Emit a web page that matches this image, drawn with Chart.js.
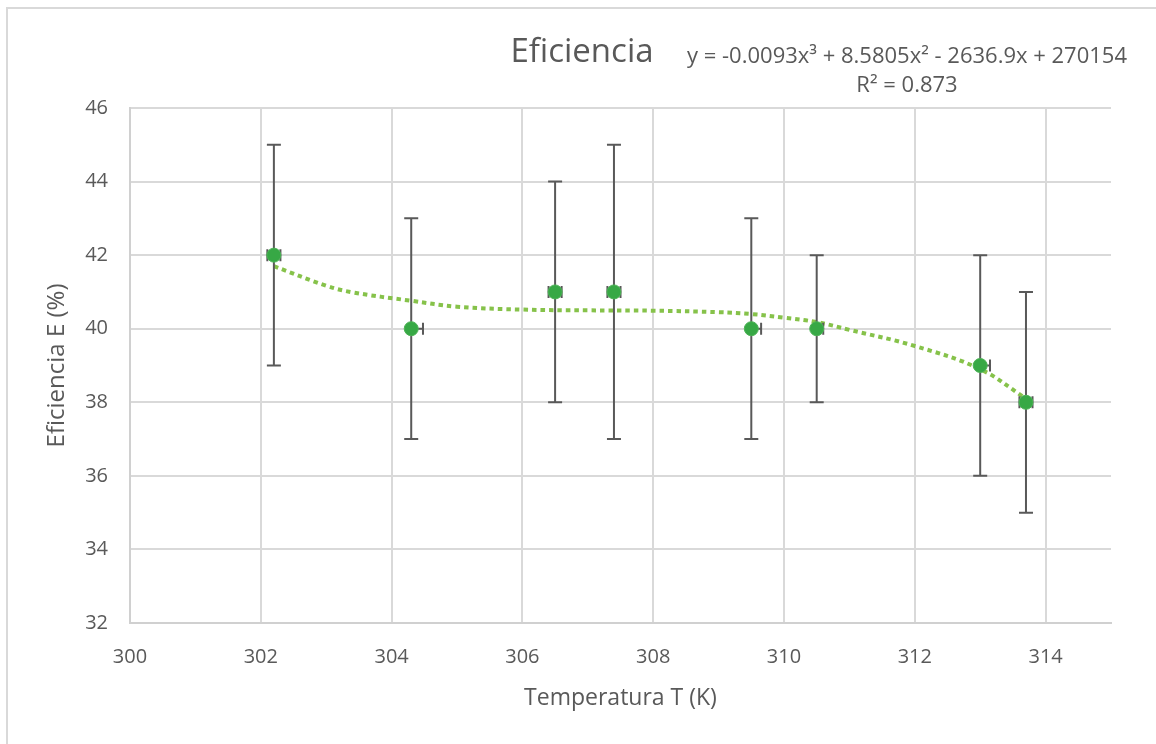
<!DOCTYPE html>
<html>
<head>
<meta charset="utf-8">
<script src="https://cdn.jsdelivr.net/npm/chart.js@4/dist/chart.umd.min.js"></script>
<style>
  html, body { margin: 0; padding: 0; background: #ffffff; }
  #wrap { width: 1156px; height: 744px; }
</style>
</head>
<body>
<div id="wrap"><canvas id="c" width="1156" height="744"></canvas></div>
<script>
// ---- data ----
const temps = [302.2, 304.3, 306.5, 307.4, 309.5, 310.5, 313.0, 313.7];
const effs = [42, 40, 41, 41, 40, 40, 39, 38];
const effErr = [3, 3, 3, 4, 3, 2, 3, 3];
const tempErrPlus = [0.1, 0.18, 0.1, 0.1, 0.15, 0.1, 0.15, 0.1];
const tempErrMinus = [0.1, 0, 0.1, 0.1, 0, 0, 0, 0.1];
const trendT = [302.2, 303.0, 303.4, 304.3, 305.0, 306.0, 307.0, 308.0, 309.0, 309.5, 310.0, 310.5, 311.0, 312.0, 313.0, 313.7];
const trendE = [41.70, 41.17, 40.99, 40.76, 40.60, 40.52, 40.50, 40.49, 40.45, 40.40, 40.30, 40.18, 39.97, 39.53, 38.90, 38.10];
const xTicks = [300, 302, 304, 306, 308, 310, 312, 314];
const yTicks = [32, 34, 36, 38, 40, 42, 44, 46];
const chartTitle = 'Eficiencia';
const eqLine1 = 'y = -0.0093x\u00B3 + 8.5805x\u00B2 - 2636.9x + 270154';
const eqLine2 = 'R\u00B2 = 0.873';
const xTitle = 'Temperatura T (K)';
const yTitle = 'Eficiencia E (%)';

const FONT = '"Open Sans", "Noto Sans", sans-serif';
const TXT = '#595959';

const frame = {
  id: 'frame',
  beforeDraw(chart) {
    const ctx = chart.ctx;
    ctx.save();
    ctx.fillStyle = '#ffffff';
    ctx.fillRect(0, 0, chart.width, chart.height);
    ctx.strokeStyle = '#d9d9d9';
    ctx.lineWidth = 2;
    ctx.strokeRect(7, 8, 1300, 900);
    ctx.restore();
  },
  afterDraw(chart) {
    const ctx = chart.ctx;
    ctx.save();
    ctx.fillStyle = TXT;
    ctx.textAlign = 'center';
    ctx.textBaseline = 'middle';
    ctx.font = '33px ' + FONT;
    ctx.fillText(chartTitle, 582, 53);
    ctx.font = '22px ' + FONT;
    ctx.fillText(eqLine1, 907, 57);
    ctx.fillText(eqLine2, 907, 86);
    ctx.restore();
  }
};

const errorBars = {
  id: 'errorBars',
  beforeDatasetDraw(chart, args) {
    if (args.index !== 0) return;
    const ctx = chart.ctx;
    const x = chart.scales.x, y = chart.scales.y;
    ctx.save();
    ctx.strokeStyle = '#595959';
    ctx.lineWidth = 2;
    temps.forEach((t, i) => {
      const px = x.getPixelForValue(t);
      const py = y.getPixelForValue(effs[i]);
      const top = y.getPixelForValue(effs[i] + effErr[i]);
      const bot = y.getPixelForValue(effs[i] - effErr[i]);
      ctx.beginPath();
      ctx.moveTo(px, top); ctx.lineTo(px, bot);
      ctx.moveTo(px - 7, top); ctx.lineTo(px + 7, top);
      ctx.moveTo(px - 7, bot); ctx.lineTo(px + 7, bot);
      const r = x.getPixelForValue(t + tempErrPlus[i]);
      const l = x.getPixelForValue(t - tempErrMinus[i]);
      ctx.moveTo(l, py); ctx.lineTo(r, py);
      if (tempErrPlus[i] > 0) { ctx.moveTo(r, py - 6); ctx.lineTo(r, py + 6); }
      if (tempErrMinus[i] > 0) { ctx.moveTo(l, py - 6); ctx.lineTo(l, py + 6); }
      ctx.stroke();
    });
    ctx.restore();
  }
};

new Chart(document.getElementById('c'), {
  type: 'scatter',
  data: {
    datasets: [
      {
        label: 'Eficiencia',
        data: temps.map((t, i) => ({ x: t, y: effs[i] })),
        backgroundColor: '#37A845',
        borderColor: '#4DB356',
        borderWidth: 1,
        pointRadius: 7,
        showLine: false
      },
      {
        label: 'Trend',
        type: 'line',
        data: trendT.map((t, i) => ({ x: t, y: trendE[i] })),
        borderColor: '#86C24A',
        borderWidth: 4,
        borderDash: [4.5, 4],
        borderCapStyle: 'butt',
        pointRadius: 0,
        fill: false,
        tension: 0.4,
        showLine: true
      }
    ]
  },
  options: {
    responsive: false,
    animation: false,
    devicePixelRatio: 1,
    layout: { padding: { top: 108, right: 45, bottom: 0, left: 0 } },
    plugins: { legend: { display: false }, tooltip: { enabled: false }, title: { display: false } },
    scales: {
      x: {
        type: 'linear',
        min: 300, max: 315,
        afterBuildTicks: s => { s.ticks = xTicks.map(v => ({ value: v })); },
        afterFit: s => { s.height = 121; },
        ticks: { padding: 22, color: TXT, font: { family: FONT, size: 20 }, includeBounds: false },
        grid: { color: '#d9d9d9', lineWidth: 2, drawTicks: false },
        border: { color: '#d0d0d0', width: 2 },
        title: { display: true, text: xTitle, color: TXT, font: { family: FONT, size: 23 }, padding: { top: 0, bottom: 32 } }
      },
      y: {
        type: 'linear',
        min: 32, max: 46,
        afterBuildTicks: s => { s.ticks = yTicks.map(v => ({ value: v })); },
        afterFit: s => { s.width = 130; },
        ticks: { padding: 22, color: TXT, font: { family: FONT, size: 20 } },
        grid: { color: '#d9d9d9', lineWidth: 2, drawTicks: false },
        border: { color: '#d0d0d0', width: 2 },
        title: { display: true, text: yTitle, color: TXT, font: { family: FONT, size: 24 }, padding: { top: 43, bottom: 0 } }
      }
    }
  },
  plugins: [frame, errorBars]
});
</script>
</body>
</html>
